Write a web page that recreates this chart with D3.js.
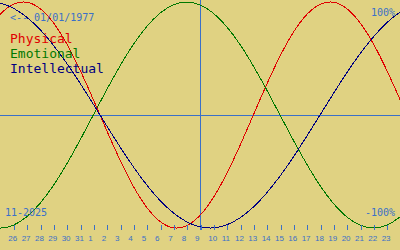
<!DOCTYPE html>
<html>
<head>
    <meta charset="utf-8">
    <style>
        body{
            margin: 0;
            background-color: rgb(224,210,130);
        }
        svg{
            display: block;
            font-family: "DejaVu Sans Mono", monospace;
        }
        .curve{
            fill: none;
            stroke-width: 1px;
            shape-rendering: crispEdges;
        }
        .ticks .tick line{
            stroke: rgb(58,112,200);
            shape-rendering: crispEdges;
        }
        .ticks .domain{
            display: none;
        }
        .ticks .tick text{
            fill: rgb(58,112,200);
            font-size: 8px;
        }
    </style>
</head>
<body>
    <svg class="vis"></svg>

    <script src="https://cdnjs.cloudflare.com/ajax/libs/d3/7.8.5/d3.min.js"></script>
    <script>

        var width = 400;
        var height = 250;

        // days shown, offset from the centre day (9 Nov)
        var dayOffsets = [-16,-15,-14,-13,-12,-11,-10,-9,-8,-7,-6,-5,-4,-3,-2,-1,0,
                          1,2,3,4,5,6,7,8,9,10,11,12,13,14,15,16];
        var dayLabels = ["24","25","26","27","28","29","30","31","1","2","3","4","5","6","7","8","9",
                         "10","11","12","13","14","15","16","17","18","19","20","21","22","23","24","25"];

        // cycle values in percent, one per day
        var physical = [73.1,88.8,97.9,99.8,94.2,81.7,63.1,39.8,13.6,-13.6,-39.8,-63.1,-81.7,-94.2,-99.8,-97.9,-88.8,
                        -73.1,-52.0,-27.0,0,27.0,52.0,73.1,88.8,97.9,99.8,94.2,81.7,63.1,39.8,13.6,-13.6];
        var emotional = [-97.5,-100,-97.5,-90.1,-78.2,-62.4,-43.4,-22.3,0,22.3,43.4,62.4,78.2,90.1,97.5,100,97.5,
                         90.1,78.2,62.4,43.4,22.3,0,-22.3,-43.4,-62.4,-78.2,-90.1,-97.5,-100,-97.5,-90.1,-78.2];
        var intellectual = [99.9,99.0,94.5,86.6,75.6,61.8,45.8,28.2,9.5,-9.5,-28.2,-45.8,-61.8,-75.6,-86.6,-94.5,-99.0,
                            -99.9,-97.2,-91.0,-81.5,-69.0,-54.1,-37.2,-18.9,0,18.9,37.2,54.1,69.0,81.5,91.0,97.2];

        var tickOffsets = dayOffsets.filter(k => Math.abs(k) <= 14);

        var series = [
            {name: "Physical", values: physical, color: "rgb(224,0,0)"},
            {name: "Emotional", values: emotional, color: "rgb(0,120,0)"},
            {name: "Intellectual", values: intellectual, color: "rgb(0,0,128)"}
        ];

        var textBlue = "rgb(58,112,200)";

        var vis = d3.select("svg.vis")
                 .attr("width", width)
                 .attr("height", height);

        var x = d3.scaleLinear().domain([-15, 15]).range([0, width]);
        var y = d3.scaleLinear().domain([-100, 100]).range([228, 2]);

        // centre lines
        vis.append("line")
            .attr("x1", 0).attr("x2", width)
            .attr("y1", Math.round(y(0)) + 0.5).attr("y2", Math.round(y(0)) + 0.5)
            .attr("stroke", textBlue);

        vis.append("line")
            .attr("x1", Math.round(x(0)) + 0.5).attr("x2", Math.round(x(0)) + 0.5)
            .attr("y1", 0).attr("y2", 230)
            .attr("stroke", textBlue);

        // curves
        var line = d3.line()
            .x((d, i) => x(dayOffsets[i]))
            .y(d => y(d))
            .curve(d3.curveNatural);

        vis.selectAll("path.curve")
            .data(series)
            .enter().append("path")
            .attr("class", "curve")
            .attr("stroke", d => d.color)
            .attr("d", d => line(d.values));

        // day ticks
        var axis = d3.axisBottom(x)
            .tickValues(tickOffsets)
            .tickSize(5)
            .tickFormat(k => dayLabels[dayOffsets.indexOf(k)]);

        var ticks = vis.append("g")
            .attr("class", "ticks")
            .attr("transform", "translate(0.5,225)")
            .call(axis);

        ticks.selectAll(".tick text")
            .attr("text-anchor", "start")
            .attr("x", -6)
            .attr("y", 16)
            .attr("dy", null);

        // labels
        function label(txt, px, py, size, color, anchor){
            vis.append("text")
                .attr("x", px)
                .attr("y", py)
                .attr("font-size", size + "px")
                .attr("fill", color)
                .attr("text-anchor", anchor || "start")
                .text(txt);
        }

        label("<-- 01/01/1977", 10, 21, 10, textBlue);
        series.forEach((s, i) => label(s.name, 10, 43 + i * 15, 13, s.color));
        label("11-2025", 5, 216, 10, textBlue);
        label("100%", 395, 16, 10, textBlue, "end");
        label("-100%", 395, 216, 10, textBlue, "end");

    </script>
</body>
</html>
